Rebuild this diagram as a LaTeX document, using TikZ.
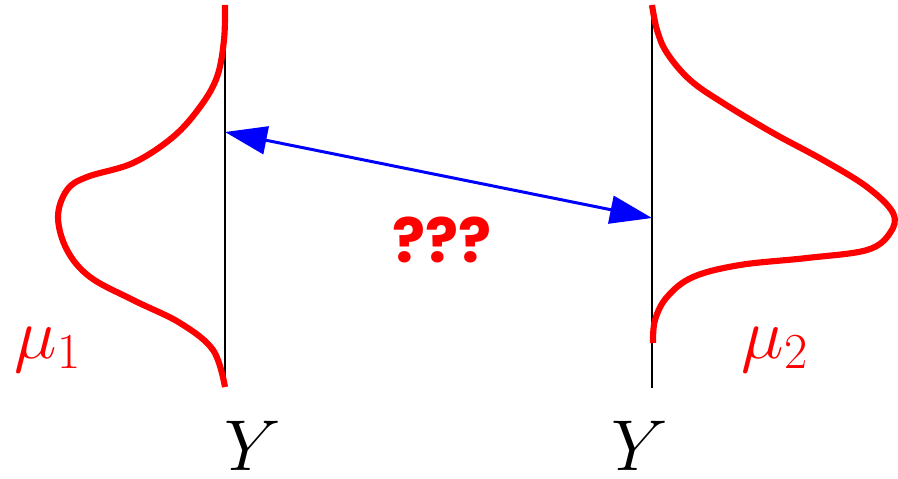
\RequirePackage{fix-cm}
\documentclass[tikz,border=0pt]{standalone}
\usepackage{fontspec}
\usepackage{tikz}
\usetikzlibrary{arrows.meta}
\newfontfamily\qfont{Poppins}
\tikzstyle{link}=[{Triangle[length=0.84cm,width=0.56cm]}-{Triangle[length=0.84cm,width=0.56cm]}, line width=1.7pt, color=blue]

\begin{document}
\begin{tikzpicture}[x=0.02cm, y=-0.02cm,
  axis/.style={black, line width=1.3pt},
  density/.style={red, line width=3.5pt},
  lbl/.style={anchor=base, inner sep=0pt, font=\fontsize{41}{48}\selectfont}
]
\useasboundingbox (0,0) rectangle (898,479);

% the two Y axes
\draw[axis] (225,10) -- (225,385);
\draw[axis] (652,12) -- (652,388);

% densities
\draw[density] plot[smooth, tension=0.6] coordinates {(225,5) (224,40) (217,77) (200,107) (173,137) (133,163) (87,177) (67,190) (58,217) (67,250) (90,277) (133,300) (180,323) (213,350) (225,387)};
\draw[density] plot[smooth, tension=0.6] coordinates {(652,5) (657,30) (667,53) (690,80) (723,103) (773,133) (823,160) (867,187) (893,213) (890,233) (867,250) (807,258) (740,265) (693,277) (667,297) (655,320) (653,343)};

% where the arrow touches the axes
\coordinate (p1) at (225,132);
\coordinate (p2) at (652,218);
\draw[link] (p1) -- (p2);

\node[lbl, red] (mu1) at (48,358) {$\mu_1$};
\node[lbl, red] (mu2) at (775,358) {$\mu_2$};
\node[lbl] (y1) at (253,470) {$Y$};
\node[lbl] (y2) at (640,470) {$Y$};
\node[anchor=base, red, font=\qfont\bfseries\fontsize{35}{42}\selectfont] (q) at (442,262) {???};
\end{tikzpicture}
\end{document}
